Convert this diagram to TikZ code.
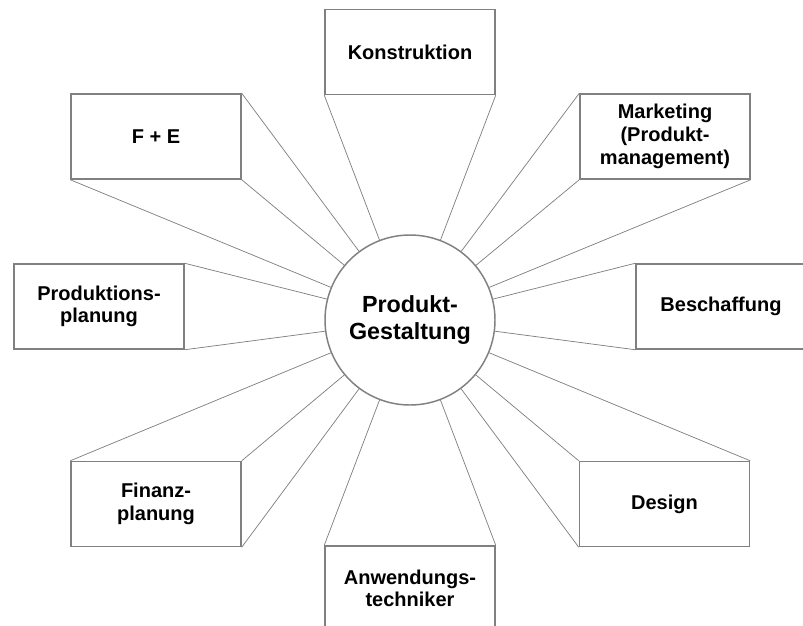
\documentclass[tikz,border=0pt]{standalone}
\usepackage{fontspec}
\setmainfont{Liberation Sans}
\usepackage{tikz}

\begin{document}
\begin{tikzpicture}[
x=0.75pt, y=-0.75pt,
MyBoxes/.style={draw=gray, line width=1.1pt, fill=white, minimum width=127.5pt, minimum height=63.75pt, inner sep=0pt, align=center, font=\bfseries\fontsize{15}{17}\selectfont},
MyCircle/.style={circle, draw=gray, line width=1.1pt, fill=white, minimum size=127.5pt, inner sep=0pt, align=center, font=\bfseries\fontsize{17.5}{20}\selectfont},
Rays/.style={draw=gray, line width=0.55pt}
]
\clip (0,0) rectangle (803,625);

% center
\node[MyCircle] (gestaltung) at (410,320) {Produkt-\\Gestaltung};

% the eight boxes round it
\node[MyBoxes] (konstr) at (410,52) {Konstruktion};
\node[MyBoxes] (fue) at (156,136.5) {F + E};
\node[MyBoxes] (marketing) at (665,136.5) {Marketing\\(Produkt-\\management)};
\node[MyBoxes] (prodplan) at (99,306.5) {Produktions-\\planung};
\node[MyBoxes] (beschaff) at (721,306.5) {Beschaffung};
\node[MyBoxes] (finanz) at (156,504) {Finanz-\\planung};
\node[MyBoxes] (design) at (664.5,504) {Design};
\node[MyBoxes] (anwend) at (410,588.5) {Anwendungs-\\techniker};

\draw[Rays] (konstr.south west) -- (gestaltung);
\draw[Rays] (konstr.south east) -- (gestaltung);

\draw[Rays] (fue.north east) -- (gestaltung);
\draw[Rays] (fue.south east) -- (gestaltung);
\draw[Rays] (fue.south west) -- (gestaltung);

\draw[Rays] (marketing.north west) -- (gestaltung);
\draw[Rays] (marketing.south west) -- (gestaltung);
\draw[Rays] (marketing.south east) -- (gestaltung);

\draw[Rays] (prodplan.north east) -- (gestaltung);
\draw[Rays] (prodplan.south east) -- (gestaltung);

\draw[Rays] (beschaff.north west) -- (gestaltung);
\draw[Rays] (beschaff.south west) -- (gestaltung);

\draw[Rays] (finanz.north west) -- (gestaltung);
\draw[Rays] (finanz.north east) -- (gestaltung);
\draw[Rays] (finanz.south east) -- (gestaltung);

\draw[Rays] (design.north west) -- (gestaltung);
\draw[Rays] (design.north east) -- (gestaltung);
\draw[Rays] (design.south west) -- (gestaltung);

\draw[Rays] (anwend.north west) -- (gestaltung);
\draw[Rays] (anwend.north east) -- (gestaltung);

\end{tikzpicture}
\end{document}
